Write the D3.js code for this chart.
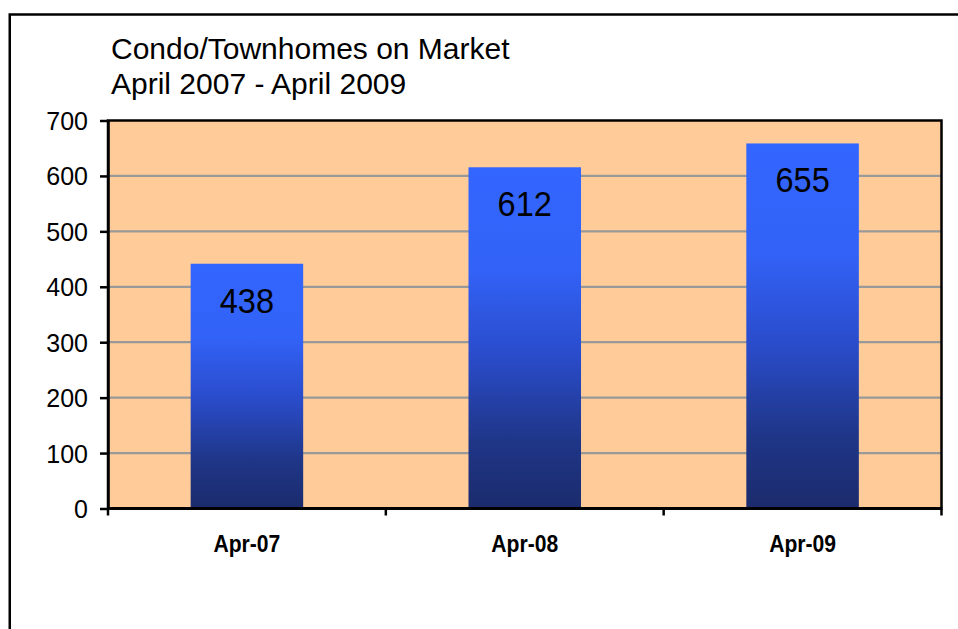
<!DOCTYPE html>
<html>
<head>
<meta charset="utf-8">
<script src="https://cdn.jsdelivr.net/npm/d3@7"></script>
<style>
  html, body { margin: 0; padding: 0; background: #fff; }
  svg { display: block; }
  text { font-family: "Liberation Sans", Arial, sans-serif; fill: #000; }
</style>
</head>
<body>
<svg id="chart" width="958" height="629"></svg>
<script>
const titleLines = ["Condo/Townhomes on Market", "April 2007 - April 2009"];
const categories = ["Apr-07", "Apr-08", "Apr-09"];
const values = [438, 612, 655];
const yTicks = [0, 100, 200, 300, 400, 500, 600, 700];

const W = 958, H = 629;
const plot = { left: 108, right: 941.5, top: 120.5, bottom: 508.5 };

const svg = d3.select("#chart");

// gradient
const defs = svg.append("defs");
const grad = defs.append("linearGradient").attr("id", "barGrad")
  .attr("x1", 0).attr("y1", 0).attr("x2", 0).attr("y2", 1);
[[0, "#3366ff"], [0.3, "#3262f7"], [0.55, "#2a4ccb"], [0.8, "#1f3688"], [1, "#1b2b6c"]]
  .forEach(([o, c]) => grad.append("stop").attr("offset", o).attr("stop-color", c));

// outer border
svg.append("rect").attr("x", 9.75).attr("y", 14.5).attr("width", 1000).attr("height", 700)
  .attr("fill", "none").attr("stroke", "#000").attr("stroke-width", 2.5);

const x = d3.scaleBand().domain(categories).range([plot.left, plot.right]).paddingInner(0.595).paddingOuter(0.2975);
const y = d3.scaleLinear().domain([0, 700]).range([plot.bottom, plot.top]);

// plot background
svg.append("rect").attr("x", plot.left).attr("y", plot.top)
  .attr("width", plot.right - plot.left).attr("height", plot.bottom - plot.top)
  .attr("fill", "#ffcc99");

// gridlines
svg.append("g").selectAll("line").data(yTicks.filter(d => d > 0 && d < 700)).join("line")
  .attr("x1", plot.left).attr("x2", plot.right)
  .attr("y1", d => y(d)).attr("y2", d => y(d))
  .attr("stroke", "#999").attr("stroke-width", 2.2);

// bars (Excel-style: a thin same-colour edge makes them look ~2px taller)
svg.append("g").selectAll("rect").data(values).join("rect")
  .attr("x", (d, i) => x(categories[i]))
  .attr("width", x.bandwidth())
  .attr("y", d => y(d) - 2)
  .attr("height", d => plot.bottom - y(d) + 2)
  .attr("fill", "url(#barGrad)");

// plot border (top, right, left)
svg.append("path")
  .attr("d", `M${plot.left},${plot.bottom} V${plot.top} H${plot.right} V${plot.bottom}`)
  .attr("fill", "none").attr("stroke", "#000").attr("stroke-width", 2.5);

// y axis
const yAxis = svg.append("g").attr("transform", `translate(${plot.left},0)`)
  .call(d3.axisLeft(y).tickValues(yTicks).tickSize(8).tickSizeOuter(0).tickPadding(12));
yAxis.select(".domain").attr("stroke", "#000").attr("stroke-width", 2.5);
yAxis.selectAll(".tick line").attr("stroke", "#000").attr("stroke-width", 2.5);
yAxis.selectAll(".tick text").attr("font-size", 25).attr("font-family", "Liberation Sans, Arial, sans-serif")
  .attr("fill", "#000").attr("dy", "0.36em");

// x axis
const xEdges = [plot.left, ...categories.map((c, i) => plot.left + (i + 1) * (plot.right - plot.left) / categories.length)];
svg.append("line").attr("x1", plot.left - 1).attr("x2", plot.right + 1)
  .attr("y1", plot.bottom).attr("y2", plot.bottom).attr("stroke", "#000").attr("stroke-width", 3);
svg.append("g").selectAll("line").data(xEdges).join("line")
  .attr("x1", d => d).attr("x2", d => d).attr("y1", plot.bottom).attr("y2", plot.bottom + 7)
  .attr("stroke", "#000").attr("stroke-width", 2.5);

const xLabels = svg.append("g").selectAll("text").data(categories).join("text")
  .attr("x", d => x(d) + x.bandwidth() / 2).attr("y", 552)
  .attr("text-anchor", "middle").attr("font-size", 24).attr("font-weight", "bold")
  .text(d => d);
xLabels.each(function () {
  const l = this.getComputedTextLength();
  d3.select(this).attr("textLength", l * 0.88).attr("lengthAdjust", "spacingAndGlyphs");
});

// value labels
const vLabels = svg.append("g").selectAll("text").data(values).join("text")
  .attr("x", (d, i) => x(categories[i]) + x.bandwidth() / 2)
  .attr("y", d => y(d) + 47)
  .attr("text-anchor", "middle").attr("font-size", 35)
  .text(d => d);
vLabels.each(function () {
  const l = this.getComputedTextLength();
  d3.select(this).attr("textLength", l * 0.93).attr("lengthAdjust", "spacingAndGlyphs");
});

// title
svg.append("g").selectAll("text").data(titleLines).join("text")
  .attr("x", 111).attr("y", (d, i) => 58.5 + i * 35.5)
  .attr("font-size", 30)
  .text(d => d);
</script>
</body>
</html>
